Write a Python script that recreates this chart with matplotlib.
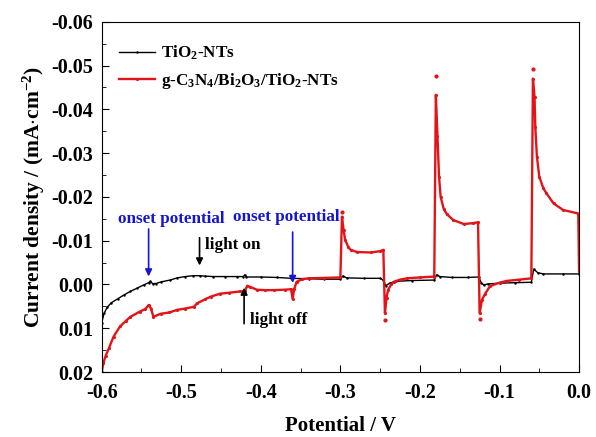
import matplotlib
matplotlib.use('Agg')
import matplotlib.pyplot as plt
from matplotlib.ticker import MultipleLocator, FuncFormatter

plt.rcParams['font.family'] = ['Liberation Serif', 'DejaVu Serif']
plt.rcParams['font.weight'] = 'bold'
plt.rcParams['mathtext.fontset'] = 'custom'
plt.rcParams['mathtext.rm'] = 'Liberation Serif:bold'
plt.rcParams['mathtext.it'] = 'Liberation Serif:bold'
plt.rcParams['mathtext.bf'] = 'Liberation Serif:bold'

# TiO2-NTs
tio2_v = [-0.600, -0.597, -0.593, -0.588, -0.580, -0.572, -0.564, -0.555, -0.547, -0.541,
          -0.539, -0.536, -0.532, -0.525, -0.514, -0.505, -0.495, -0.485, -0.477, -0.470,
          -0.460, -0.445, -0.430, -0.422, -0.420, -0.418, -0.400, -0.380, -0.362, -0.340,
          -0.320, -0.300, -0.297, -0.292, -0.270, -0.250, -0.246, -0.243, -0.238, -0.230,
          -0.210, -0.182, -0.179, -0.175, -0.160, -0.140, -0.126, -0.123, -0.120, -0.115,
          -0.100, -0.080, -0.060, -0.057, -0.052, -0.045, -0.020, 0.000]
tio2_j = [0.0088, 0.0066, 0.0052, 0.0042, 0.0033, 0.0024, 0.0016, 0.0008, 0.0001, -0.0004,
          -0.0007, -0.0002, -0.0002, -0.0006, -0.0010, -0.0015, -0.0018, -0.0020, -0.0020, -0.0019,
          -0.0018, -0.0018, -0.0018, -0.0018, -0.0022, -0.0017, -0.0017, -0.0016, -0.0014, -0.0013,
          -0.0012, -0.0012, -0.0019, -0.0015, -0.0014, -0.0014, -0.0010, 0.0003, -0.0003, -0.0007,
          -0.0009, -0.0010, -0.0022, -0.0018, -0.0016, -0.0016, -0.0017, -0.0004, 0.0001, -0.0001,
          -0.0003, -0.0004, -0.0005, -0.0035, -0.0027, -0.0024, -0.0024, -0.0024]

# g-C3N4/Bi2O3/TiO2-NTs
comp_v = [-0.600, -0.598, -0.595, -0.591, -0.585, -0.577, -0.570, -0.564, -0.552, -0.545,
          -0.541, -0.538, -0.535, -0.526, -0.515, -0.505, -0.495, -0.484, -0.480, -0.470,
          -0.463, -0.451, -0.440, -0.426, -0.420, -0.417, -0.413, -0.405, -0.395, -0.384,
          -0.370, -0.362, -0.360, -0.358, -0.355, -0.348, -0.340, -0.320, -0.300, -0.298,
          -0.296, -0.294, -0.290, -0.287, -0.279, -0.262, -0.250, -0.246, -0.244, -0.242,
          -0.240, -0.236, -0.233, -0.225, -0.216, -0.200, -0.182, -0.180, -0.178, -0.176,
          -0.174, -0.170, -0.166, -0.158, -0.145, -0.133, -0.127, -0.125, -0.122, -0.118,
          -0.112, -0.100, -0.091, -0.075, -0.060, -0.058, -0.056, -0.055, -0.053, -0.050,
          -0.045, -0.041, -0.032, -0.020, -0.001, 0.000]
comp_j = [0.0200, 0.0180, 0.0163, 0.0146, 0.0119, 0.0096, 0.0084, 0.0074, 0.0062, 0.0056,
          0.0047, 0.0055, 0.0074, 0.0067, 0.0064, 0.0058, 0.0055, 0.0051, 0.0043, 0.0034,
          0.0028, 0.0021, 0.0019, 0.0016, 0.0015, 0.0003, 0.0006, 0.0012, 0.0013, 0.0013,
          0.0012, 0.0011, 0.0033, 0.0010, -0.0006, -0.0012, -0.0014, -0.0015, -0.0016, -0.0155,
          -0.0125, -0.0102, -0.0085, -0.0079, -0.0074, -0.0073, -0.0076, -0.0079, 0.0066, 0.0030,
          0.0012, 0.0000, -0.0006, -0.0011, -0.0014, -0.0016, -0.0018, -0.0433, -0.0340, -0.0246,
          -0.0200, -0.0172, -0.0160, -0.0147, -0.0138, -0.0140, -0.0142, 0.0066, 0.0035, 0.0021,
          0.0004, -0.0004, -0.0008, -0.0011, -0.0014, -0.0470, -0.0429, -0.0360, -0.0292, -0.0246,
          -0.0220, -0.0208, -0.0185, -0.0170, -0.0162, -0.0030]

# lone points at the transient extremes
spike_v = [-0.298, -0.244, -0.180, -0.125, -0.058]
spike_j = [-0.0166, 0.0081, -0.0476, 0.0079, -0.0491]

red = '#e31418'
blue = '#1414d2'

fig = plt.figure(figsize=(5.96, 4.37), dpi=100)
ax = fig.add_axes([0.1706, 0.1487, 0.801, 0.8016])

ax.plot(tio2_v, tio2_j, color='black', lw=1.0, marker='.', ms=1.5,
        label='TiO$_2$-NTs')
ax.plot(comp_v, comp_j, color=red, lw=1.7, marker='.', ms=2.5,
        label='g-C$_3$N$_4$/Bi$_2$O$_3$/TiO$_2$-NTs')
ax.plot(spike_v, spike_j, ls='none', marker='.', ms=4, color=red)

ax.set_xlim(-0.6, 0.0)
ax.set_ylim(0.02, -0.06)
ax.xaxis.set_major_locator(MultipleLocator(0.1))
ax.xaxis.set_minor_locator(MultipleLocator(0.05))
ax.yaxis.set_major_locator(MultipleLocator(0.01))
ax.yaxis.set_minor_locator(MultipleLocator(0.005))
ax.tick_params(which='both', direction='in', top=False, right=False, labelsize=14.5)
ax.tick_params(which='major', length=5)
ax.tick_params(which='minor', length=3)
ax.tick_params(axis='x', pad=8)
ax.tick_params(axis='y', pad=6)
ax.xaxis.set_major_formatter(FuncFormatter(lambda v, p: '%.1f' % v if abs(v) > 1e-9 else '0.0'))
ax.yaxis.set_major_formatter(FuncFormatter(lambda v, p: '%.2f' % v if abs(v) > 1e-9 else '0.00'))
for lab in ax.get_xticklabels() + ax.get_yticklabels():
    lab.set_fontweight('bold')

ax.set_xlabel('Potential / V', fontsize=15, fontweight='bold', labelpad=9)
ax.set_ylabel('Current density / (mA$\\cdot$cm$^{-2}$)', fontsize=15.5, fontweight='bold', labelpad=3)

leg = ax.legend(loc='upper left', frameon=False, fontsize=12.3, handlelength=2.1,
                borderaxespad=0.6, labelspacing=0.5, handletextpad=0.35,
                bbox_to_anchor=(0.0, 0.985))

# annotations
fs = 12.3
ax.text(-0.580, -0.0150, 'onset potential', color=blue, fontsize=fs, fontweight='bold', va='center')
ax.annotate('', xy=(-0.541, -0.0012), xytext=(-0.541, -0.0133),
            arrowprops=dict(arrowstyle='-|>', color=blue, lw=1.2, mutation_scale=10))
ax.text(-0.435, -0.0155, 'onset potential', color=blue, fontsize=fs, fontweight='bold', va='center')
ax.annotate('', xy=(-0.360, 0.0003), xytext=(-0.360, -0.0126),
            arrowprops=dict(arrowstyle='-|>', color=blue, lw=1.2, mutation_scale=10))
ax.text(-0.470, -0.0089, 'light on', color='black', fontsize=fs, fontweight='bold', va='center')
ax.annotate('', xy=(-0.477, -0.0037), xytext=(-0.477, -0.0113),
            arrowprops=dict(arrowstyle='-|>', color='black', lw=1.2, mutation_scale=10))
ax.text(-0.414, 0.0082, 'light off', color='black', fontsize=fs, fontweight='bold', va='center')
ax.annotate('', xy=(-0.421, 0.0001), xytext=(-0.421, 0.0096),
            arrowprops=dict(arrowstyle='-|>', color='black', lw=1.2, mutation_scale=10))

fig.savefig('out.png', dpi=100)
